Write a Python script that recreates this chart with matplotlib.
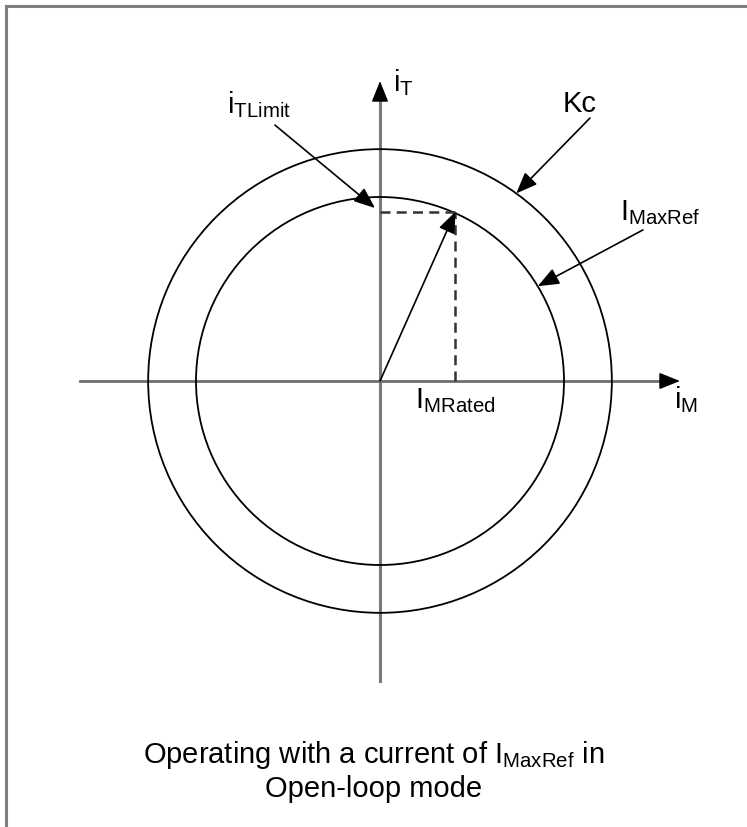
import matplotlib.pyplot as plt
import numpy as np
from matplotlib.lines import Line2D
from matplotlib.patches import Circle

plt.rcParams['font.family'] = ['Liberation Sans', 'DejaVu Sans']
plt.rcParams['mathtext.fontset'] = 'custom'
plt.rcParams['mathtext.rm'] = 'Liberation Sans'
plt.rcParams['mathtext.it'] = 'Liberation Sans'

# circles, radius in units of I_MaxRef
circle_labels = ["Kc", r"$\mathregular{I_{MaxRef}}$"]
circle_radii = [1.26, 1.0]
# angle (deg) where each label's pointer touches its circle
pointer_angles = [54, 31]

# operating point on the I_MaxRef circle
i_m_rated = 0.41
i_t_limit = 0.92

axis_extent = 1.63
caption = [r"Operating with a current of $\mathregular{I_{MaxRef}}$ in",
           "Open-loop mode"]

# 1 unit = 184 px, origin at pixel (380, 381) of a 747x827 picture
px = 184.0
fig = plt.figure(figsize=(7.47, 8.27), dpi=100)
ax = fig.add_axes([0, 0, 1, 1])
ax.set_xlim(-380 / px, (747 - 380) / px)
ax.set_ylim((381 - 827) / px, 381 / px)
ax.axis("off")

fs = 21
head = "-|>,head_length=0.65,head_width=0.26"

# coordinate axes: gray shafts, black heads
ax.plot([-axis_extent, axis_extent - 0.05], [0, 0], color="#6e6e6e", lw=2.0, zorder=1)
ax.plot([0, 0], [-axis_extent, axis_extent - 0.05], color="#7a7a7a", lw=2.2, zorder=1)
for tip, tail in [((axis_extent, 0), (axis_extent - 0.1, 0)),
                  ((0, axis_extent), (0, axis_extent - 0.1))]:
    ax.annotate("", xy=tip, xytext=tail,
                arrowprops=dict(arrowstyle=head, color="black", lw=1.0,
                                shrinkA=0, shrinkB=0, mutation_scale=20))

# circles
for r in circle_radii:
    ax.add_patch(Circle((0, 0), r, fill=False, edgecolor="black", lw=1.3, zorder=2))

# current vector and its projections
ax.plot([i_m_rated, i_m_rated], [0, i_t_limit], color="#333333", lw=1.8,
        dashes=(4, 2.5), zorder=2)
ax.plot([0, i_m_rated], [i_t_limit, i_t_limit], color="#333333", lw=1.8,
        dashes=(4, 2.5), zorder=2)
ax.annotate("", xy=(i_m_rated, i_t_limit), xytext=(0, 0),
            arrowprops=dict(arrowstyle=head, color="black", lw=1.2,
                            shrinkA=0, shrinkB=0, mutation_scale=20), zorder=3)

# labelled pointers to the circles
label_pos = [(0.99, 1.46), (1.304, 0.875)]
tail_pos = [(1.141, 1.429), (1.429, 0.821)]
for lab, r, ang, lp, tp in zip(circle_labels, circle_radii, pointer_angles,
                                label_pos, tail_pos):
    a = np.deg2rad(ang)
    ax.annotate("", xy=(r * np.cos(a), r * np.sin(a)), xytext=tp,
                arrowprops=dict(arrowstyle=head, color="black", lw=1.2,
                                shrinkA=0, shrinkB=0, mutation_scale=20))
    ax.text(lp[0], lp[1], lab, fontsize=fs, ha="left", va="baseline")

# i_TLimit pointer
ax.annotate("", xy=(-0.027, i_t_limit + 0.02), xytext=(-0.571, 1.391),
            arrowprops=dict(arrowstyle=head, color="black", lw=1.2,
                            shrinkA=0, shrinkB=0, mutation_scale=20))
ax.text(-0.83, 1.456, r"$\mathregular{i_{TLimit}}$", fontsize=fs,
        ha="left", va="baseline")

# axis labels
ax.text(0.07, 1.575, r"$\mathregular{i_T}$", fontsize=fs, ha="left", va="baseline")
ax.text(1.60, -0.147, r"$\mathregular{i_M}$", fontsize=fs, ha="left", va="baseline")
ax.text(0.19, -0.147, r"$\mathregular{I_{MRated}}$", fontsize=fs,
        ha="left", va="baseline")

# caption
ax.text(-0.035, (381 - 763) / px, caption[0], fontsize=fs, ha="center", va="baseline")
ax.text(-0.035, (381 - 797) / px, caption[1], fontsize=fs, ha="center", va="baseline")

# frame on the top and left edges
fig.add_artist(Line2D([5.5 / 747, 1], [1 - 5.5 / 827, 1 - 5.5 / 827],
                      transform=fig.transFigure, color="#808080", lw=2.2))
fig.add_artist(Line2D([5.5 / 747, 5.5 / 747], [0, 1 - 5.5 / 827],
                      transform=fig.transFigure, color="#808080", lw=2.2))

fig.savefig("out.png", dpi=100, facecolor="white")
